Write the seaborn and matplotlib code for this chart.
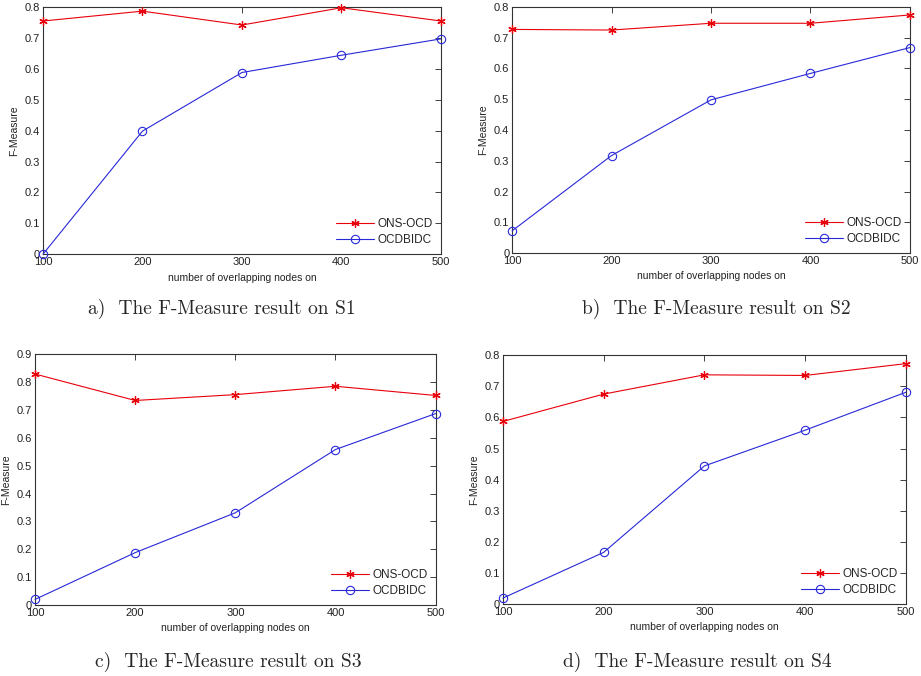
import numpy as np
import pandas as pd
import matplotlib.pyplot as plt
import seaborn as sns

# number of overlapping nodes
nodes = [100, 200, 300, 400, 500]

# F-Measure values
ons_s1 = [0.756, 0.788, 0.743, 0.799, 0.756]
ocd_s1 = [0.0, 0.399, 0.589, 0.645, 0.698]
ons_s2 = [0.727, 0.725, 0.747, 0.747, 0.774]
ocd_s2 = [0.072, 0.317, 0.498, 0.584, 0.668]
ons_s3 = [0.829, 0.734, 0.755, 0.785, 0.752]
ocd_s3 = [0.020, 0.188, 0.331, 0.558, 0.687]
ons_s4 = [0.587, 0.675, 0.737, 0.735, 0.773]
ocd_s4 = [0.019, 0.166, 0.444, 0.559, 0.681]

captions = ['a)  The F-Measure result on S1', 'b)  The F-Measure result on S2',
            'c)  The F-Measure result on S3', 'd)  The F-Measure result on S4']
ymax = [0.8, 0.8, 0.9, 0.8]

sns.set_theme(style='white')
plt.rcParams['font.family'] = ['Liberation Sans', 'DejaVu Sans']

fig = plt.figure(figsize=(9.21, 6.76), dpi=100)

# axes boxes (left, bottom, width, height) in figure fractions
boxes = [[0.0467, 0.624, 0.432, 0.365],
         [0.556, 0.6257, 0.432, 0.364],
         [0.038, 0.105, 0.435, 0.371],
         [0.546, 0.1065, 0.4376, 0.368]]
cap_pos = [(0.241, 0.543), (0.778, 0.543), (0.2476, 0.0207), (0.757, 0.0207)]

series = [(ons_s1, ocd_s1), (ons_s2, ocd_s2), (ons_s3, ocd_s3), (ons_s4, ocd_s4)]

for i, (ons, ocd) in enumerate(series):
    ax = fig.add_axes(boxes[i])
    df = pd.DataFrame({'nodes': nodes * 2,
                       'F-Measure': ons + ocd,
                       'method': ['ONS-OCD'] * 5 + ['OCDBIDC'] * 5})
    sns.lineplot(data=df[df['method'] == 'ONS-OCD'], x='nodes', y='F-Measure',
                 color='#e8000b', marker=(6, 2, 0), markersize=6, linewidth=0.8,
                 markeredgewidth=0.9, markeredgecolor='#e8000b',
                 label='ONS-OCD', clip_on=False, zorder=3, ax=ax)
    sns.lineplot(data=df[df['method'] == 'OCDBIDC'], x='nodes', y='F-Measure',
                 color='#2828d8', marker='o', markersize=6, linewidth=0.8,
                 markerfacecolor='none', markeredgecolor='#2828d8',
                 markeredgewidth=0.8, label='OCDBIDC', clip_on=False, zorder=3, ax=ax)
    ax.set_xlim(100, 500)
    ax.set_ylim(0, ymax[i])
    ax.set_xticks(nodes)
    yt = np.round(np.arange(0, ymax[i] + 0.01, 0.1), 1)
    ax.set_yticks(yt)
    ax.set_yticklabels(['0'] + ['%.1f' % v for v in yt[1:]])
    ax.tick_params(direction='in', top=True, right=True, length=4, width=0.6,
                   labelsize=8, pad=2, colors='#222222', labelcolor='#222222')
    for s in ax.spines.values():
        s.set_color('#333333')
        s.set_linewidth(0.8)
    ax.set_xlabel('number of overlapping nodes on', fontsize=7.5, labelpad=4, color='#222222')
    ax.set_ylabel('F-Measure', fontsize=7.5, labelpad=4, color='#222222')
    ax.legend(loc='lower right', frameon=False, fontsize=8.5, handlelength=3.2,
              handletextpad=0.3, borderaxespad=0.3, labelspacing=0.3)
    fig.text(cap_pos[i][0], cap_pos[i][1], captions[i], ha='center', va='center',
             fontsize=14, family=['cmr10', 'DejaVu Serif'])

fig.savefig('out.png', dpi=100)
plt.close()
